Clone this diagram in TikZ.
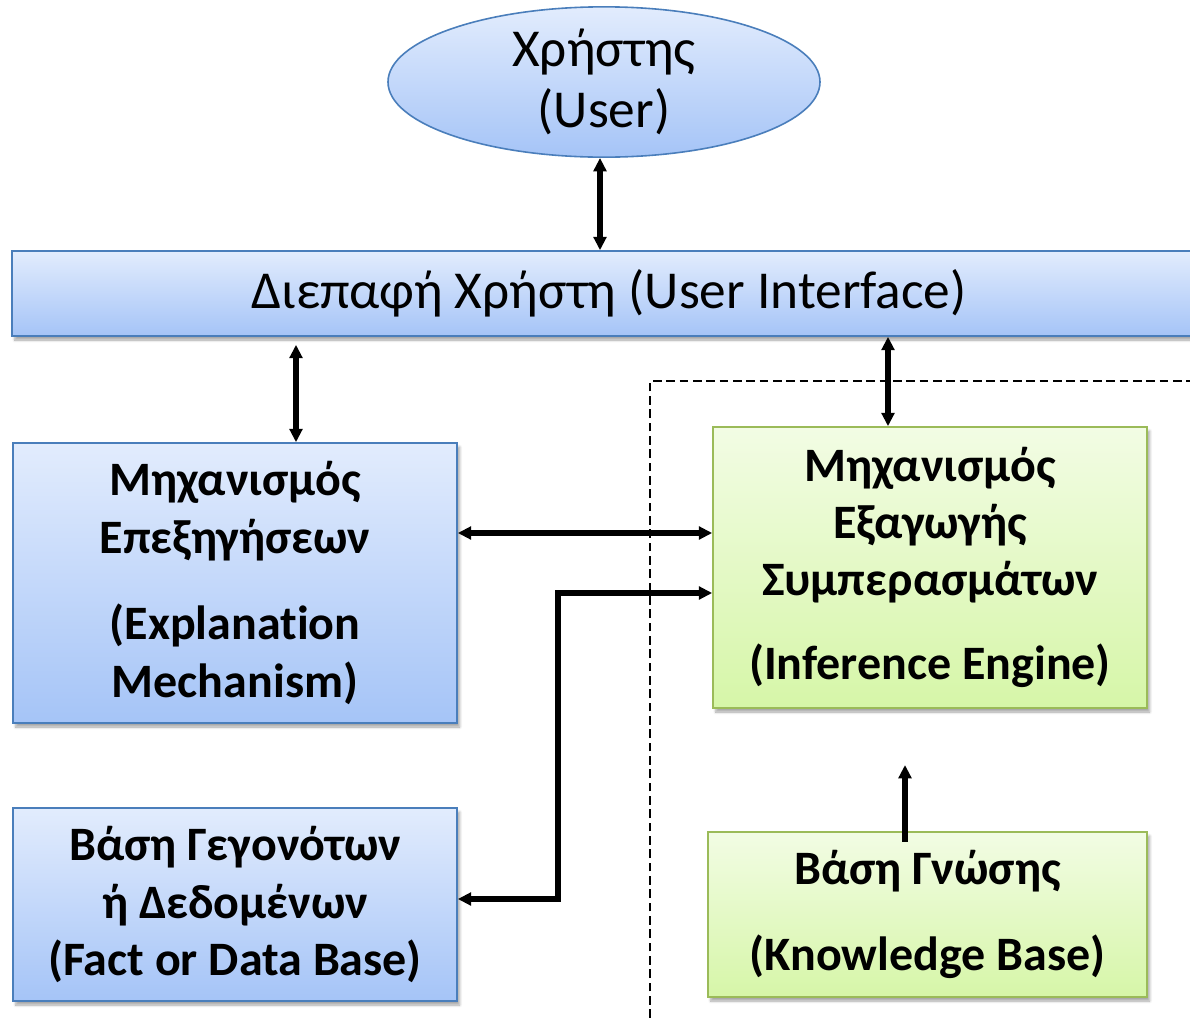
\documentclass[tikz,border=0pt]{standalone}
\usepackage{fontspec}
\setmainfont{Carlito}[Ligatures=NoCommon]
\usetikzlibrary{arrows.meta,shapes.geometric,shadows.blur}
\definecolor{blueTop}{RGB}{226,236,253}
\definecolor{blueBot}{RGB}{165,196,247}
\definecolor{blueLine}{RGB}{74,126,187}
\definecolor{greenTop}{RGB}{242,252,228}
\definecolor{greenBot}{RGB}{214,246,168}
\definecolor{greenLine}{RGB}{155,187,89}
\tikzset{
  bluebox/.style={draw=blueLine, line width=1.2pt, top color=blueTop, bottom color=blueBot,
    rectangle, align=center, inner sep=0pt,
    blur shadow={shadow xshift=2pt, shadow yshift=-3pt, shadow blur steps=6, shadow opacity=35}},
  greenbox/.style={draw=greenLine, line width=1.2pt, top color=greenTop, bottom color=greenBot,
    rectangle, align=center, inner sep=0pt,
    blur shadow={shadow xshift=2pt, shadow yshift=-3pt, shadow blur steps=6, shadow opacity=35}},
  bigtext/.style={font=\fontsize{40}{46}\selectfont},
  boldtext/.style={font=\fontsize{36}{43}\selectfont\bfseries},
  biarrow/.style={line width=4.3pt, {Triangle[length=10pt,width=9.5pt]}-{Triangle[length=10pt,width=9.5pt]}},
  uparrow/.style={line width=4.3pt, -{Triangle[length=10pt,width=9.5pt]}},
  frameline/.style={line width=1.2pt, dash pattern=on 6.5pt off 3.5pt}
}
\begin{document}
\begin{tikzpicture}[x=0.75pt,y=-0.75pt]
\useasboundingbox (0,0) rectangle (1190,1018);
\begin{scope}
\clip (0,0) rectangle (1190,1018);
% dashed frame
\draw[frameline] (650,1018) -- (650,381) -- (1200,381);

% user ellipse
\node[ellipse, draw=blueLine, line width=1.2pt, top color=blueTop, bottom color=blueBot,
  minimum width=324pt, minimum height=108pt, inner sep=0pt, align=center, bigtext]
  (user) at (604,82) {Χρήστης\\(User)};

% user interface bar
\node[bluebox, minimum width=895.5pt, minimum height=63.75pt, bigtext]
  (ui) at (609,293.5) {Διεπαφή Χρήστη (User Interface)};

% explanation mechanism
\node[bluebox, minimum width=333pt, minimum height=210pt, boldtext]
  (expl) at (235,583) {Μηχανισμός\\Επεξηγήσεων\\[22pt](Explanation\\Mechanism)};

% inference engine
\node[greenbox, minimum width=325.5pt, minimum height=210.75pt, boldtext]
  (inf) at (930,567.5) {Μηχανισμός\\Εξαγωγής\\Συμπερασμάτων\\[20pt](Inference Engine)};

% fact base
\node[bluebox, minimum width=333pt, minimum height=144.75pt, boldtext]
  (fact) at (235,904.5) {Βάση Γεγονότων\\ή Δεδομένων\\(Fact or Data Base)};

% knowledge base
\node[greenbox, minimum width=329.25pt, minimum height=123.75pt, boldtext]
  (kb) at (927.5,914.5) {Βάση Γνώσης\\[21pt](Knowledge Base)};

% connectors
\draw[biarrow] (user.south -| 600,0) -- (ui.north -| 600,0);
\draw[biarrow, shorten <=6pt] (ui.south -| 296,0) -- (expl.north -| 296,0);
\draw[biarrow] (ui.south -| 888,0) -- (inf.north -| 888,0);
\draw[biarrow] (expl.east |- 0,533) -- (inf.west |- 0,533);
\coordinate (bendA) at (558,899);
\coordinate (bendB) at (558,593);
\draw[biarrow] (fact.east |- bendA) -- (bendA) -- (bendB) -- (inf.west |- bendB);
\coordinate (kbtip) at (905,765);
\draw[uparrow] ([yshift=-8pt]kb.north -| kbtip) -- (kbtip);
\end{scope}
\end{tikzpicture}
\end{document}
